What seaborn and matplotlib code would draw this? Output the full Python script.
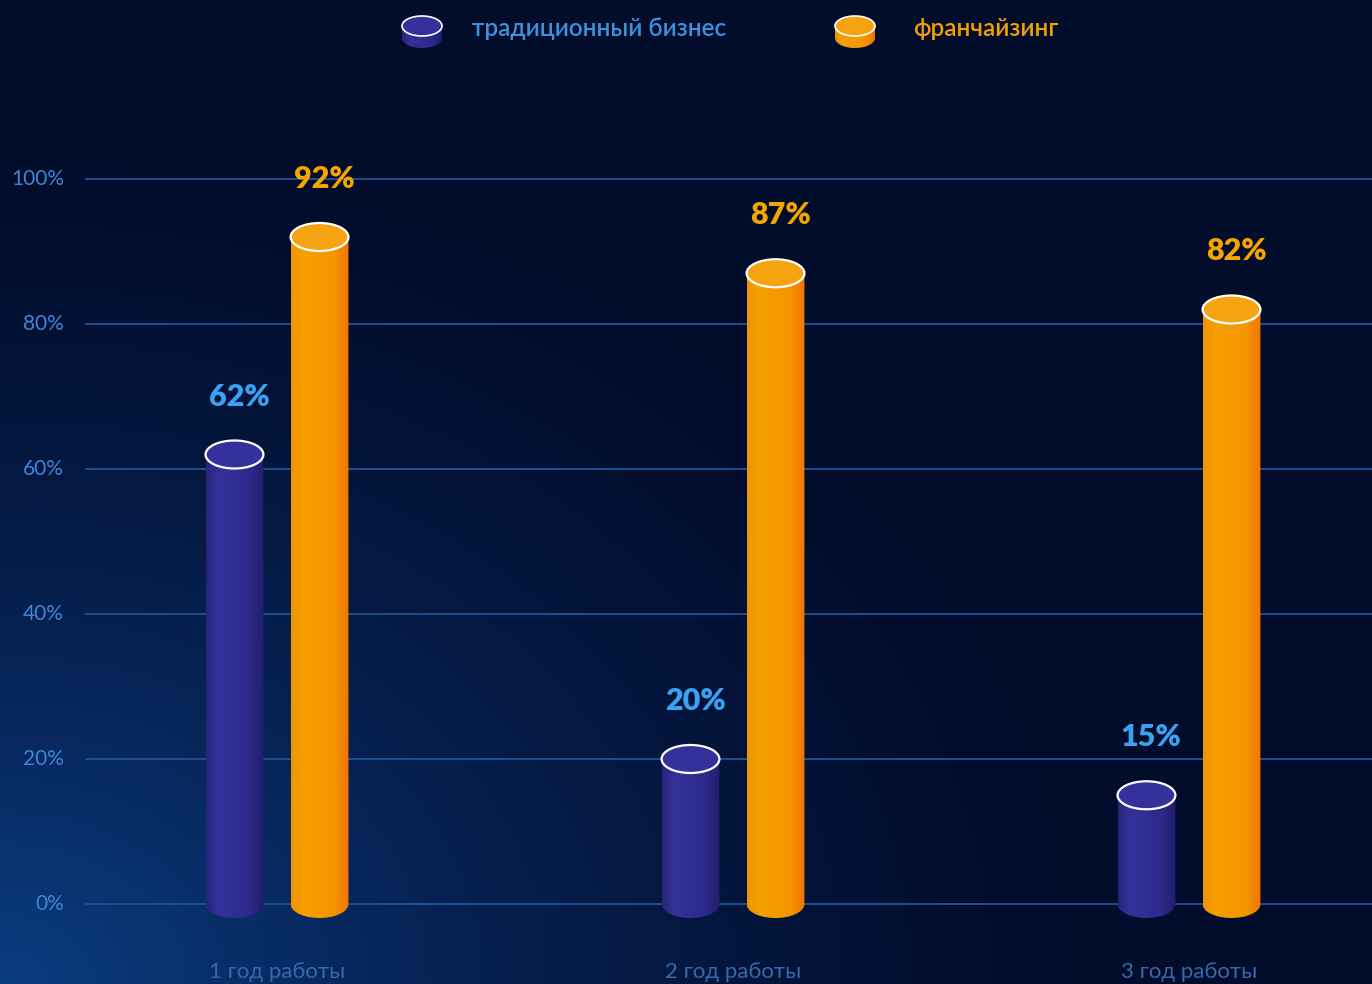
import numpy as np
import pandas as pd
import matplotlib
matplotlib.use("Agg")
import matplotlib.pyplot as plt
import seaborn as sns
from matplotlib.patches import Polygon, Ellipse
from matplotlib.colors import LinearSegmentedColormap, to_rgb

# ---------------- data ----------------
categories = ["1 год работы", "2 год работы", "3 год работы"]
series_names = ["традиционный бизнес", "франчайзинг"]
traditional = [62, 20, 15]
franchise = [92, 87, 82]
y_ticks = [0, 20, 40, 60, 80, 100]
y_tick_labels = ["0%", "20%", "40%", "60%", "80%", "100%"]

df = pd.DataFrame({
    "cat": categories * 2,
    "series": [series_names[0]] * 3 + [series_names[1]] * 3,
    "value": traditional + franchise,
})

# ---------------- style ----------------
BG = "#020c2b"
GRID = "#1d4f8f"
TICK = "#3f85d8"
CAT = "#3768ae"
BLUE_LBL = "#3aa2f2"
ORANGE_LBL = "#f5a400"
body_cols = {series_names[0]: ["#27247a", "#34319a", "#2d2a8c", "#211e6c"],
             series_names[1]: ["#f09400", "#f5a000", "#f59500", "#f27400"]}
top_cols = {series_names[0]: "#34319c", series_names[1]: "#f6a312"}

sns.set_theme(style="white")
plt.rcParams["font.family"] = ["Lato", "DejaVu Sans"]

fig = plt.figure(figsize=(13.72, 9.84), dpi=100)
fig.patch.set_facecolor(BG)

# background glow
bgax = fig.add_axes([0, 0, 1, 1], zorder=-10)
H, W = 492, 686
yy, xx = np.mgrid[0:H, 0:W]
d = np.sqrt(((xx - 0) / 560.0) ** 2 + ((yy - H) / 430.0) ** 2)
g = np.clip(1 - d, 0, 1) ** 1.5
c0 = np.array(to_rgb(BG)); c1 = np.array(to_rgb("#0b3d82"))
img = c0[None, None, :] * (1 - g[..., None]) + c1[None, None, :] * g[..., None]
bgax.imshow(img, extent=[0, 1, 0, 1], aspect="auto", origin="upper")
bgax.axis("off")

# main axes: x from 85px to right edge, full height
px0 = 904.0; ppv = 7.25  # pixel of 0%, pixels per %
ax = fig.add_axes([85 / 1372, 0, 1 - 85 / 1372, 1])
ax.patch.set_alpha(0)
ppx = 456.0

sns.barplot(data=df, x="cat", y="value", hue="series", order=categories,
            hue_order=series_names, width=0.373, gap=0.32, dodge=True,
            palette=[body_cols[s][1] for s in series_names], legend=False,
            ax=ax, zorder=3, saturation=1)
ax.set_xlim(-(277 - 85) / ppx, 2 + (1372 - 1189) / ppx)
ax.set_ylim(-(984 - px0) / ppv, px0 / ppv)

# grid
for t in y_ticks:
    ax.axhline(t, color=GRID, lw=1.4, zorder=1)
for s in ax.spines.values():
    s.set_visible(False)
ax.set_xticks([]); ax.set_yticks([])
ax.set_xlabel(""); ax.set_ylabel("")
for t, lab in zip(y_ticks, y_tick_labels):
    ax.text(-(277 - 64) / ppx, t, lab, ha="right", va="center", color=TICK,
            fontsize=15, fontweight="normal", clip_on=False)

ehv = 28 / ppv  # ellipse height in data units


def cylinder(xc, w, bottom, top, cols, topc, eh, z=4, rim=1.6):
    t = np.linspace(np.pi, 2 * np.pi, 60)
    bx = xc + (w / 2) * np.cos(t)
    by = bottom + (eh / 2) * np.sin(t)
    pts = np.column_stack([np.r_[bx, xc + w / 2, xc - w / 2], np.r_[by, top, top]])
    poly = Polygon(pts, closed=True, facecolor="none", edgecolor="none", zorder=z)
    ax.add_patch(poly)
    cmap = LinearSegmentedColormap.from_list("c", [(0, cols[0]), (0.2, cols[1]), (0.75, cols[2]), (1, cols[3])])
    grad = np.linspace(0, 1, 200)[None, :]
    im = ax.imshow(grad, cmap=cmap, extent=[xc - w / 2, xc + w / 2, bottom - eh / 2, top],
                   aspect="auto", zorder=z, interpolation="bilinear")
    im.set_clip_path(poly)
    ax.add_patch(Ellipse((xc, top), w, eh, facecolor=topc, edgecolor="white", lw=rim, zorder=z + 1))


bars = [p for p in ax.patches if p.get_height() > 0]
order = [(s, i) for s in series_names for i in range(3)]
for p, (s, i) in zip(bars, order):
    p.set_alpha(0)
    xc = p.get_x() + p.get_width() / 2
    w = p.get_width()
    h = p.get_height()
    cylinder(xc, w, 0, h, body_cols[s], top_cols[s], ehv)
    ax.text(xc + 0.01, h + 8.0, f"{int(h)}%", ha="center", va="center",
            color=BLUE_LBL if s == series_names[0] else ORANGE_LBL,
            fontsize=22, fontweight="heavy", zorder=6)

for i, c in enumerate(categories):
    ax.text(i, -9.4, c, ha="center", va="center", color=CAT, fontsize=16,
            fontweight="normal")

# legend
lg_x = [(422 - 277) / ppx, (855 - 277) / ppx]
lg_tx = [(472 - 277) / ppx, (913 - 277) / ppx]
for k, s in enumerate(series_names):
    cylinder(lg_x[k], 40 / ppx, (px0 - 38) / ppv, (px0 - 26) / ppv,
             body_cols[s], top_cols[s], 20 / ppv, z=4, rim=1.2)
    ax.text(lg_tx[k], (px0 - 29) / ppv, s, ha="left", va="center",
            color="#3d90dc" if k == 0 else "#f2a000", fontsize=17.5,
            fontweight="semibold")

fig.savefig("out.png", dpi=100, facecolor=BG)
